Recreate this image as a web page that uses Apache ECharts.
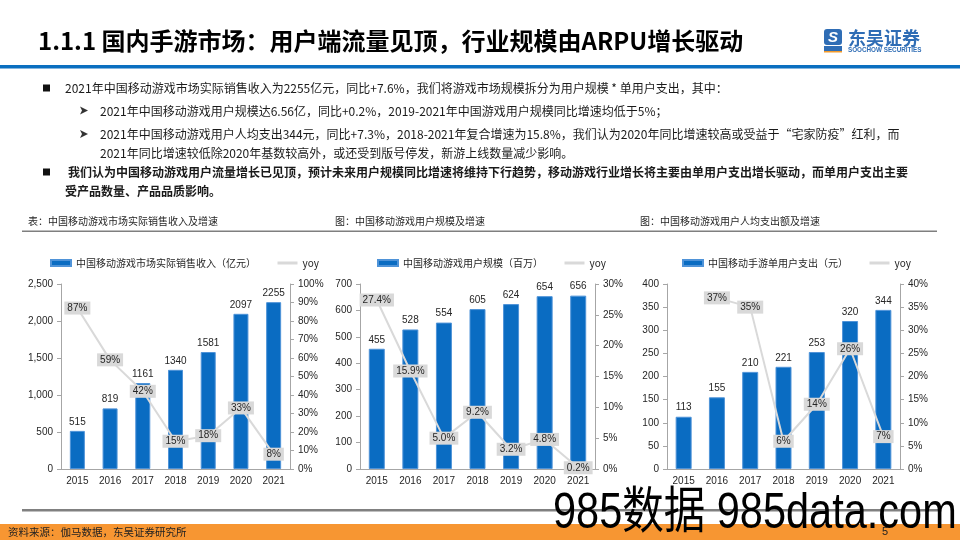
<!DOCTYPE html>
<html><head><meta charset="utf-8">
<script src="https://cdn.jsdelivr.net/npm/echarts/dist/echarts.min.js"></script>
<style>html,body{margin:0;padding:0;background:#fff}#c{width:960px;height:540px}</style>
</head><body><div id="c"></div>
<script>
const years = ['2015','2016','2017','2018','2019','2020','2021'];
const revenue = [515, 819, 1161, 1340, 1581, 2097, 2255];
const revenueYoy = [87, 59, 42, 15, 18, 33, 8];
const users = [455, 528, 554, 605, 624, 654, 656];
const usersYoy = [27.4, 15.9, 5.0, 9.2, 3.2, 4.8, 0.2];
const arpu = [113, 155, 210, 221, 253, 320, 344];
const arpuYoy = [null, 37, 35, 6, 14, 26, 7];
const seriesNames = ['中国移动游戏市场实际销售收入（亿元）', '中国移动游戏用户规模（百万）', '中国移动手游单用户支出（元）'];
const subtitles = ['表：中国移动游戏市场实际销售收入及增速', '图：中国移动游戏用户规模及增速', '图：中国移动游戏用户人均支出额及增速'];
const title = '1.1.1 国内手游市场：用户端流量见顶，行业规模由ARPU增长驱动';
const bodyLines = [
  '2021年中国移动游戏市场实际销售收入为2255亿元，同比+7.6%，我们将游戏市场规模拆分为用户规模 * 单用户支出，其中：',
  '2021年中国移动游戏用户规模达6.56亿，同比+0.2%，2019-2021年中国游戏用户规模同比增速均低于5%；',
  '2021年中国移动游戏用户人均支出344元，同比+7.3%，2018-2021年复合增速为15.8%，我们认为2020年同比增速较高或受益于“宅家防疫”红利，而',
  '2021年同比增速较低除2020年基数较高外，或还受到版号停发，新游上线数量减少影响。',
  '我们认为中国移动游戏用户流量增长已见顶，预计未来用户规模同比增速将维持下行趋势，移动游戏行业增长将主要由单用户支出增长驱动，而单用户支出主要',
  '受产品数量、产品品质影响。'
];
const footer = '资料来源：伽马数据，东吴证券研究所';

const CJK = '"Noto Sans CJK SC"';
const LAT = '"Liberation Sans", Arial, "Noto Sans CJK SC"';
const axisGray = '#A6A6A6';
const txt = '#262626';
const barColor = '#0A6CC2';
const lineColor = '#D9D9D9';

const grids = [
  {left: 61, top: 284, width: 229, height: 185},
  {left: 360, top: 284, width: 235, height: 185},
  {left: 667, top: 284, width: 233, height: 185}
];
const leftAxes = [
  {max: 2500, interval: 500, fmt: v => v.toLocaleString('en-US')},
  {max: 700, interval: 100, fmt: v => String(v)},
  {max: 400, interval: 50, fmt: v => String(v)}
];
const rightAxes = [{max: 100, interval: 10}, {max: 30, interval: 5}, {max: 40, interval: 5}];
const barData = [revenue, users, arpu];
const yoyData = [revenueYoy, usersYoy, arpuYoy];
const yoyFmt = [v => v + '%', v => v.toFixed(1) + '%', v => v + '%'];
const legendLeft = [45, 372, 677];
const barWidths = [15, 16, 16];

const xAxis = [], yAxis = [], series = [], legend = [];
grids.forEach((g, i) => {
  xAxis.push({
    type: 'category', gridIndex: i, data: years,
    axisLine: {lineStyle: {color: axisGray, width: 1}},
    axisTick: {show: false},
    axisLabel: {color: txt, fontSize: 10, fontFamily: LAT, margin: 7}
  });
  yAxis.push({
    type: 'value', gridIndex: i, position: 'left', min: 0, max: leftAxes[i].max, interval: leftAxes[i].interval,
    axisLine: {show: true, lineStyle: {color: axisGray}},
    axisTick: {show: true, length: 4, lineStyle: {color: axisGray}},
    splitLine: {show: false},
    axisLabel: {color: txt, fontSize: 10, fontFamily: LAT, margin: 8, formatter: leftAxes[i].fmt}
  });
  yAxis.push({
    type: 'value', gridIndex: i, position: 'right', min: 0, max: rightAxes[i].max, interval: rightAxes[i].interval,
    axisLine: {show: true, lineStyle: {color: axisGray}},
    axisTick: {show: true, length: 4, lineStyle: {color: axisGray}},
    splitLine: {show: false},
    axisLabel: {color: txt, fontSize: 10, fontFamily: LAT, margin: 8, formatter: '{value}%'}
  });
  series.push({
    type: 'bar', name: seriesNames[i], xAxisIndex: i, yAxisIndex: i * 2,
    data: barData[i], barWidth: barWidths[i],
    itemStyle: {color: barColor, borderColor: '#4F93D8', borderWidth: 1},
    label: {show: true, position: 'top', distance: 4, color: txt, fontSize: 10, fontFamily: LAT}
  });
  const f = yoyFmt[i];
  series.push({
    type: 'line', name: 'yoy', xAxisIndex: i, yAxisIndex: i * 2 + 1,
    data: yoyData[i], symbol: 'circle', symbolSize: 1, showSymbol: true,
    itemStyle: {color: lineColor},
    lineStyle: {color: lineColor, width: 2},
    z: 5,
    label: {show: true, position: 'inside', formatter: p => f(p.value), color: txt, fontSize: 10, fontFamily: LAT,
      backgroundColor: '#D9D9D9', padding: [2, 3, 1, 3]}
  });
  legend.push({
    left: legendLeft[i], top: 253, itemWidth: 20, itemHeight: 6, itemGap: 20,
    data: [{name: seriesNames[i], icon: 'rect'}, {name: 'yoy', itemStyle: {opacity: 0}, lineStyle: {color: lineColor, width: 3}}],
    textStyle: {color: txt, fontSize: 10, fontFamily: CJK},
    selectedMode: false
  });
});

const graphic = [
  {type: 'text', z: 10, style: {x: 38, y: 41, text: title, font: 'bold 24px ' + CJK, fill: '#000', textVerticalAlign: 'middle', verticalAlign: 'middle'}},
  {type: 'rect', z: 10, shape: {x: 0, y: 65, width: 960, height: 3.5}, style: {fill: '#0A6FC0'}},
  // logo
  {type: 'rect', z: 10, shape: {x: 824, y: 29, width: 18, height: 16, r: 3}, style: {fill: '#2F6DB5'}},
  {type: 'text', z: 11, style: {x: 833, y: 37.5, text: 'S', font: 'bold italic 15px ' + LAT, fill: '#fff', textAlign: 'center', align: 'center', textVerticalAlign: 'middle', verticalAlign: 'middle'}},
  {type: 'rect', z: 10, shape: {x: 824, y: 46, width: 18, height: 5}, style: {fill: '#2F6DB5'}},
  {type: 'rect', z: 10, shape: {x: 824, y: 51, width: 18, height: 1.5}, style: {fill: '#F39A2B'}},
  {type: 'text', z: 10, style: {x: 848, y: 38, text: '东吴证券', font: 'bold 18px ' + CJK, fill: '#2F6DB5', textVerticalAlign: 'middle', verticalAlign: 'middle'}},
  {type: 'text', z: 10, style: {x: 848, y: 50, text: 'SOOCHOW SECURITIES', font: 'bold 6.3px ' + LAT, fill: '#2F6DB5', textVerticalAlign: 'middle', verticalAlign: 'middle'}},
  // bullets
  {type: 'rect', z: 10, shape: {x: 43, y: 84.5, width: 7, height: 7}, style: {fill: '#111'}},
  {type: 'rect', z: 10, shape: {x: 43, y: 168.5, width: 7, height: 7}, style: {fill: '#111'}},
  {type: 'polygon', z: 10, shape: {points: [[80, 106.5], [88, 110.5], [80, 114.5], [82, 110.5]]}, style: {fill: '#333'}},
  {type: 'polygon', z: 10, shape: {points: [[80, 130], [88, 134], [80, 138], [82, 134]]}, style: {fill: '#333'}}
];
const bodyPos = [[65, 88, false], [100, 111, false], [100, 134, false], [100, 153, false], [68, 172, true], [65, 191, true]];
bodyLines.forEach((t, i) => {
  const p = bodyPos[i];
  graphic.push({type: 'text', z: 10, style: {x: p[0], y: p[1], text: t, font: (p[2] ? 'bold ' : '') + '12px ' + CJK, fill: '#1a1a1a', textVerticalAlign: 'middle', verticalAlign: 'middle'}});
});
const subX = [28, 335, 640];
subtitles.forEach((t, i) => {
  graphic.push({type: 'text', z: 10, style: {x: subX[i], y: 221, text: t, font: '10px ' + CJK, fill: '#262626', textVerticalAlign: 'middle', verticalAlign: 'middle'}});
});
graphic.push(
  {type: 'rect', z: 10, shape: {x: 22, y: 230.5, width: 915, height: 1.5}, style: {fill: '#7F7F7F'}},
  {type: 'rect', z: 10, shape: {x: 22, y: 509, width: 918, height: 2.5}, style: {fill: '#808080'}},
  {type: 'rect', z: 10, shape: {x: 0, y: 524, width: 960, height: 16}, style: {fill: '#F79632'}},
  {type: 'text', z: 11, style: {x: 8, y: 532, text: footer, font: '10.5px ' + CJK, fill: '#222', textVerticalAlign: 'middle', verticalAlign: 'middle'}},
  {type: 'text', z: 11, style: {x: 882, y: 532, text: '5', font: '11px ' + LAT, fill: '#222', textVerticalAlign: 'middle', verticalAlign: 'middle'}},
  {type: 'text', z: 20, x: 553, y: 514, scaleX: 0.83, style: {x: 0, y: 0, text: '985数据 985data.com', font: '50px ' + LAT, fill: '#000', textVerticalAlign: 'middle', verticalAlign: 'middle'}}
);

const chart = echarts.init(document.getElementById('c'), null, {renderer: 'canvas'});
chart.setOption({
  backgroundColor: '#fff',
  animation: false,
  grid: grids,
  xAxis: xAxis,
  yAxis: yAxis,
  legend: legend,
  series: series,
  graphic: graphic
});
</script></body></html>
